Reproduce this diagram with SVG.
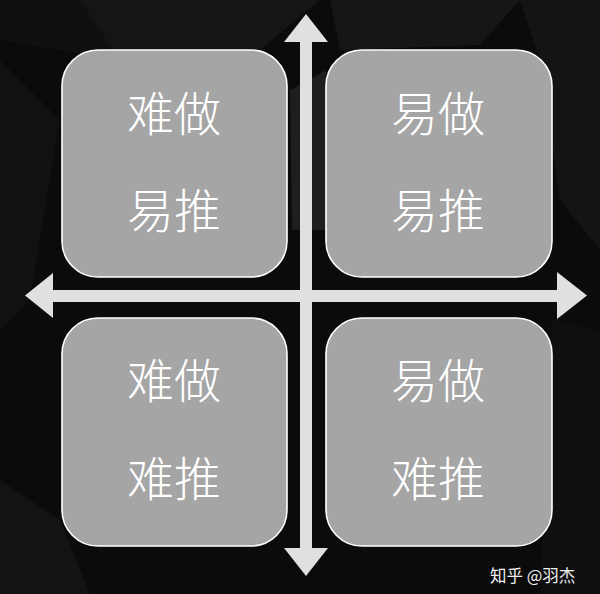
<svg xmlns="http://www.w3.org/2000/svg" width="600" height="594" viewBox="0 0 600 594">
<style>
.box{fill:#a5a5a5;stroke:#ffffff;stroke-width:1.6}
.lbl{font-family:"Noto Sans CJK SC","Noto Sans CJK JP",sans-serif;font-weight:300;font-size:47px;fill:#ffffff;text-anchor:middle}
.arr{fill:#e0e0e0}
.wm{font-family:"Noto Sans CJK SC",sans-serif;font-size:16.5px;fill:#f0f0f0}
</style>
<g id="background">
<rect x="0" y="0" width="600" height="594" fill="#0b0b0b"/>
<polygon points="0,0 200,0 120,60 0,40" fill="#101010"/>
<polygon points="80,0 320,0 260,50 120,60" fill="#151515"/>
<polygon points="330,0 520,0 480,45 340,50" fill="#161616"/>
<polygon points="520,0 600,0 600,250 560,200 540,60" fill="#141414"/>
<polygon points="0,60 60,120 30,300 0,330" fill="#111111"/>
<polygon points="0,480 60,520 90,594 0,594" fill="#131313"/>
<polygon points="290,90 326,70 326,230 292,230" fill="#1e1e1e"/>
<polygon points="552,320 600,330 600,594 540,594" fill="#0f0f0f"/>
</g>
<g id="connectors">
<rect class="arr" x="300" y="40" width="12" height="510"/>
<polygon class="arr" points="306,14 328,42 284,42"/>
<polygon class="arr" points="306,576 328,548 284,548"/>
<rect class="arr" x="51" y="290" width="508" height="12"/>
<polygon class="arr" points="25,295.5 53,273 53,318"/>
<polygon class="arr" points="587,295.5 557,272 557,319"/>
</g>
<g id="node-tl">
<rect class="box" x="62" y="50" width="225" height="227" rx="36"/>
<text class="lbl" x="174" y="131">难做</text>
<text class="lbl" x="174" y="228">易推</text>
</g>
<g id="node-tr">
<rect class="box" x="326" y="50" width="226" height="227" rx="36"/>
<text class="lbl" x="438" y="131">易做</text>
<text class="lbl" x="438" y="228">易推</text>
</g>
<g id="node-bl">
<rect class="box" x="62" y="318" width="225" height="228" rx="36"/>
<text class="lbl" x="174" y="398">难做</text>
<text class="lbl" x="174" y="496">难推</text>
</g>
<g id="node-br">
<rect class="box" x="326" y="318" width="226" height="228" rx="36"/>
<text class="lbl" x="438" y="398">易做</text>
<text class="lbl" x="438" y="496">难推</text>
</g>
<g id="watermark">
<text class="wm" x="490" y="582">知乎 @羽杰</text>
</g>
</svg>
